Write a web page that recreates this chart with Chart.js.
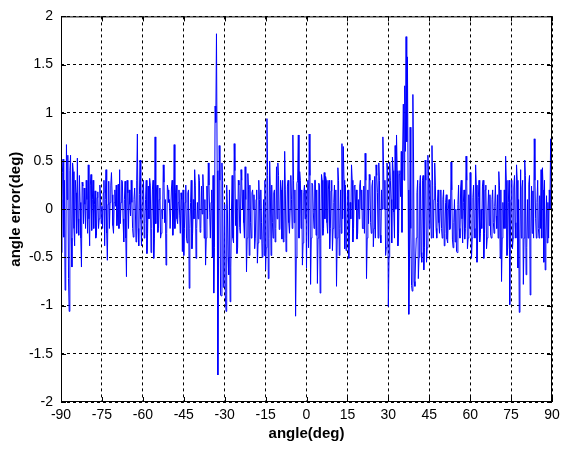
<!DOCTYPE html>
<html>
<head>
<meta charset="utf-8">
<script src="https://cdn.jsdelivr.net/npm/chart.js@4.4.1/dist/chart.umd.min.js"></script>
<style>
  html, body { margin: 0; padding: 0; background: #fff; }
  #c { display: block; }
</style>
</head>
<body>
<canvas id="c" width="566" height="449"></canvas>
<script>
// sampling of the angle axis (deg): main samples every 0.5, half-step samples in between
const angleStart = -90;
const angleStep = 0.5;

// angle error (deg) at -90, -89.5, ... in 30 degree pieces
const errM90toM60 = [
  0.1, 0.38, -0.29, -0.84, 0.67, 0.56, -1.06, 0.56, -0.6, 0.39,
  -0.38, 0.17, 0.53, -0.27, 0.07, -0.6, 0.24, 0.22, -0.2, 0.1,
  0.46, -0.38, 0.36, 0.1, -0.2, 0.19, -0.27, 0.18, -0.1, 0.1,
  0.03, 0.17, -0.38, 0.41, -0.53, 0.29, 0.07, 0.38, -0.17, 0.07,
  0.03, -0.17, 0.26, 0.41, 0.07, 0.29, -0.34, 0.29, -0.7, 0.17,
  0.2, -0.07, 0.07, -0.29, 0.22, -0.34, 0.78, -0.38, 0.51, -0.38,
  0.2
];
const errM60toM30 = [
  -0.3, 0.1, -0.46, 0.24, 0.32, -0.45, 0.2, -0.51, 0.75, 0.2,
  -0.24, 0.1, -0.3, 0.0, 0.46, -0.14, -0.58, 0.25, 0.07, -0.2,
  0.22, -0.27, 0.67, 0.17, -0.1, 0.07, -0.07, 0.17, -0.44, -0.48,
  0.07, -0.3, 0.17, -0.82, 0.07, -0.41, 0.1, 0.41, -0.51, 0.07,
  0.36, -0.24, 0.24, 0.36, -0.3, -0.58, 0.24, 0.48, -0.03, 0.07,
  -0.5, -0.87, 1.07, 1.82, -1.72, 0.66, -0.89, 0.48, -0.81, 0.05
];
const errM30to0 = [
  -1.06, 0.0, -0.68, -0.96, 0.0, -0.3, 0.68, -0.17, -0.46, 0.3,
  -0.19, 0.41, 0.0, -0.14, 0.44, -0.65, 0.37, -0.48, -0.14, 0.17,
  0.0, -0.41, 0.1, -0.56, 0.3, -0.31, -0.14, -0.36, -0.48, -0.63,
  0.94, -0.72, 0.5, -0.48, -0.14, 0.17, -0.34, 0.44, 0.48, -0.21,
  0.3, -0.31, -0.34, 0.6, -0.44, 0.24, -0.14, 0.0, 0.1, 0.77,
  -0.14, -1.11, 0.27, 0.77, 0.39, -0.2, -0.58, 0.17, -0.1, -0.61
];
const err0to30 = [
  0.3, 0.78, -0.78, 0.27, -0.03, 0.3, -0.27, -0.77, 0.27, -0.87,
  0.36, -0.27, 0.38, 0.34, -0.14, 0.2, -0.41, 0.19, -0.43, 0.07,
  -0.3, -0.8, 0.43, -0.48, 0.2, 0.68, 0.65, -0.41, -0.43, 0.17,
  -0.51, 0.07, 0.46, -0.34, 0.24, 0.0, -0.31, 0.1, 0.24, 0.0,
  -0.2, 0.24, 0.58, -0.72, 0.2, 0.36, -0.14, 0.24, -0.39, 0.34,
  0.46, 0.17, 0.48, -0.27, 0.2, 0.75, 0.0, -0.48, 0.48, -1.01
];
const err30to60 = [
  0.49, 0.1, 0.54, -0.03, 0.66, 0.77, -0.38, 0.36, 0.13, -0.24,
  1.09, 1.28, 1.79, 1.58, -1.09, 0.85, -0.79, 1.19, -0.75, -0.5,
  0.17, -0.72, 0.25, -0.45, 0.3, -0.63, 0.51, -0.55, 0.56, -0.2,
  0.0, 0.66, -0.3, 0.48, -0.2, 0.07, -0.14, 0.0, -0.2, 0.1,
  -0.38, 0.07, -0.31, 0.0, -0.21, 0.49, -0.31, -0.14, -0.34, -0.44,
  0.05, -0.2, 0.22, -0.1, 0.07, -0.31, 0.55, -0.41, 0.15, 0.38
];
const err60to90 = [
  -0.51, 0.12, -0.2, 0.46, -0.55, 0.12, -0.34, 0.0, 0.24, -0.51,
  0.2, -0.41, 0.0, -0.17, -0.27, 0.1, -0.14, 0.03, -0.07, 0.15,
  0.39, -0.51, -0.75, 0.07, 0.2, 0.55, -0.48, 0.07, -0.99, 0.1,
  -0.41, 0.22, -0.14, 0.46, -0.61, -1.07, 0.41, 0.22, -0.78, 0.51,
  -0.68, 0.1, 0.26, -0.89, 0.24, 0.19, 0.73, -0.1, 0.07, -0.2,
  0.14, 0.41, 0.43, -0.55, -0.63, 0.14, 0.07, 0.2, 0.73, -0.41
];

// angle error (deg) at the half steps -89.75, -89.25, ...
const midM90toM60 = [
  -0.45, 0.52, 0.3, -0.6, 0.1, -0.72, 0.4, -0.3, 0.48, -0.2,
  0.3, -0.25, -0.1, 0.35, -0.3, 0.28, -0.15, 0.05, 0.3, -0.25,
  -0.1, 0.25, -0.22, 0.3, 0.05, -0.3, 0.12, -0.2, 0.25, -0.15,
  -0.2, 0.3, 0.1, -0.25, 0.05, -0.2, 0.25, 0.15, -0.25, 0.2,
  0.25, -0.05, -0.2, -0.15, 0.3, -0.1, 0.1, -0.3, 0.3, -0.2,
  0.05, 0.3, -0.2, 0.1, 0.0, 0.3, -0.2, 0.15, -0.1, 0.05
];
const midM60toM30 = [
  0.3, -0.15, 0.3, -0.25, -0.1, 0.25, -0.2, 0.3, -0.3, -0.15,
  0.25, -0.2, 0.22, -0.25, -0.1, 0.28, 0.1, -0.25, 0.2, 0.1,
  -0.2, 0.3, -0.05, -0.2, 0.25, -0.15, 0.2, -0.25, 0.1, 0.2,
  -0.2, 0.25, -0.35, 0.2, -0.2, 0.3, -0.25, -0.1, 0.25, -0.2,
  -0.1, 0.3, -0.2, -0.05, 0.2, 0.1, -0.3, -0.1, 0.25, -0.3,
  0.2, 0.35, -0.4, 0.9, 0.4, -0.6, 0.3, -0.9, 0.3, -0.7
];
const midM30to0 = [
  -0.9, 0.25, -0.5, 0.2, -0.6, 0.35, -0.35, 0.4, 0.1, -0.4,
  0.25, -0.25, 0.3, 0.2, -0.3, 0.1, -0.3, 0.2, 0.25, -0.3,
  0.2, 0.15, -0.3, 0.2, -0.35, 0.1, 0.2, -0.5, 0.1, 0.3,
  -0.4, 0.35, -0.3, 0.2, 0.25, -0.3, 0.2, -0.2, -0.1, 0.35,
  -0.2, 0.2, 0.3, -0.3, 0.2, -0.3, 0.3, -0.25, 0.35, -0.2,
  0.3, 0.2, -0.5, 0.3, -0.3, 0.3, 0.2, -0.35, 0.25, 0.2
];
const mid0to30 = [
  0.2, -0.4, 0.35, -0.3, 0.25, -0.2, 0.3, 0.2, -0.3, 0.25,
  -0.3, 0.3, -0.2, -0.1, 0.3, -0.25, 0.3, -0.2, 0.3, -0.2,
  0.25, 0.2, -0.3, 0.3, -0.2, -0.25, -0.1, 0.3, 0.25, -0.3,
  0.2, -0.25, -0.1, 0.3, -0.2, 0.25, 0.2, -0.25, -0.1, 0.3,
  0.2, -0.2, -0.25, 0.3, -0.3, -0.15, 0.3, -0.25, 0.3, -0.2,
  -0.3, 0.35, -0.3, 0.3, -0.35, 0.0, 0.45, 0.3, -0.4, 0.4
];
const mid30to60 = [
  -0.5, 0.3, -0.35, 0.4, -0.3, 0.0, 0.4, -0.25, 0.4, 0.6,
  0.6, 0.3, 0.6, 0.7, 0.2, -0.6, -0.2, -0.85, 0.5, -0.8,
  -0.3, 0.3, -0.5, 0.35, -0.55, 0.35, -0.4, 0.3, -0.4, 0.35,
  0.3, -0.3, 0.25, 0.1, 0.25, -0.3, 0.2, -0.25, 0.2, -0.3,
  0.2, -0.25, 0.15, -0.35, 0.1, -0.2, 0.2, -0.4, 0.1, 0.0,
  -0.45, 0.25, -0.3, 0.3, -0.35, 0.2, -0.2, 0.3, -0.3, -0.2
];
const mid60to90 = [
  0.0, -0.3, 0.25, -0.3, 0.25, -0.3, 0.3, -0.25, -0.2, 0.3,
  -0.25, 0.25, -0.3, 0.2, 0.15, -0.3, 0.2, -0.25, 0.25, -0.2,
  -0.3, 0.25, 0.2, -0.3, -0.2, -0.2, 0.3, -0.4, 0.3, -0.3,
  0.3, -0.3, 0.35, -0.3, 0.3, 0.1, -0.3, -0.3, 0.3, -0.3,
  0.35, -0.4, -0.3, 0.35, -0.3, -0.25, -0.3, 0.3, -0.3, 0.3,
  -0.3, -0.2, -0.3, 0.2, 0.3, -0.3, -0.35, -0.3, 0.0, 0.3
];

// tick values
const xTicks = [-90, -75, -60, -45, -30, -15, 0, 15, 30, 45, 60, 75, 90];
const yTicks = [-2, -1.5, -1, -0.5, 0, 0.5, 1, 1.5, 2];

const mainErr = [].concat(errM90toM60, errM60toM30, errM30to0, err0to30, err30to60, err60to90);
const midErr = [].concat(midM90toM60, midM60toM30, midM30to0, mid0to30, mid30to60, mid60to90);

const points = [];
mainErr.forEach((e, i) => {
  points.push({ x: angleStart + i * angleStep, y: e });
  if (i < midErr.length) points.push({ x: angleStart + (i + 0.5) * angleStep, y: midErr[i] });
});

const FONT = "'Liberation Sans', Arial, Helvetica, sans-serif";

// solid axes box with small inward ticks, matlab style
const boxPlugin = {
  id: 'box',
  afterDatasetsDraw(chart) {
    const { ctx, chartArea: a, scales } = chart;
    ctx.save();
    ctx.strokeStyle = '#000';
    ctx.lineWidth = 1;
    ctx.setLineDash([]);
    ctx.strokeRect(a.left + 0.5, a.top + 0.5, a.right - a.left - 1, a.bottom - a.top - 1);
    const tl = 5;
    ctx.beginPath();
    xTicks.forEach(v => {
      const px = Math.round(scales.x.getPixelForValue(v)) + 0.5;
      ctx.moveTo(px, a.bottom); ctx.lineTo(px, a.bottom - tl);
      ctx.moveTo(px, a.top); ctx.lineTo(px, a.top + tl);
    });
    yTicks.forEach(v => {
      const py = Math.round(scales.y.getPixelForValue(v)) + 0.5;
      ctx.moveTo(a.left, py); ctx.lineTo(a.left + tl, py);
      ctx.moveTo(a.right, py); ctx.lineTo(a.right - tl, py);
    });
    ctx.stroke();
    ctx.restore();
  }
};

new Chart(document.getElementById('c'), {
  type: 'line',
  data: {
    datasets: [{
      label: 'angle error',
      data: points,
      borderColor: '#0000ff',
      borderWidth: 1,
      pointRadius: 0,
      tension: 0,
      fill: false
    }]
  },
  plugins: [boxPlugin],
  options: {
    responsive: false,
    devicePixelRatio: 1,
    animation: false,
    layout: { padding: { left: 0, right: 14, top: 11, bottom: 0 } },
    plugins: {
      legend: { display: false },
      tooltip: { enabled: false }
    },
    scales: {
      x: {
        type: 'linear',
        min: -90,
        max: 90,
        afterBuildTicks: s => { s.ticks = xTicks.map(v => ({ value: v })); },
        afterFit: s => { s.height = 47; },
        ticks: {
          color: '#000',
          font: { family: FONT, size: 14 },
          padding: 5,
          maxRotation: 0,
          callback: v => String(v)
        },
        grid: { color: '#000', lineWidth: 1, drawTicks: false },
        border: { display: false, dash: [3, 3] },
        title: {
          display: true,
          text: 'angle(deg)',
          color: '#000',
          font: { family: FONT, size: 15, weight: 'bold' },
          padding: { top: 0, bottom: 6 }
        }
      },
      y: {
        type: 'linear',
        min: -2,
        max: 2,
        afterBuildTicks: s => { s.ticks = yTicks.map(v => ({ value: v })); },
        afterFit: s => { s.width = 61; },
        ticks: {
          color: '#000',
          font: { family: FONT, size: 14 },
          padding: 8,
          callback: v => String(v)
        },
        grid: { color: '#000', lineWidth: 1, drawTicks: false },
        border: { display: false, dash: [3, 3] },
        title: {
          display: true,
          text: 'angle error(deg)',
          color: '#000',
          font: { family: FONT, size: 15, weight: 'bold' },
          padding: { top: 7, bottom: 0 }
        }
      }
    }
  }
});
</script>
</body>
</html>
